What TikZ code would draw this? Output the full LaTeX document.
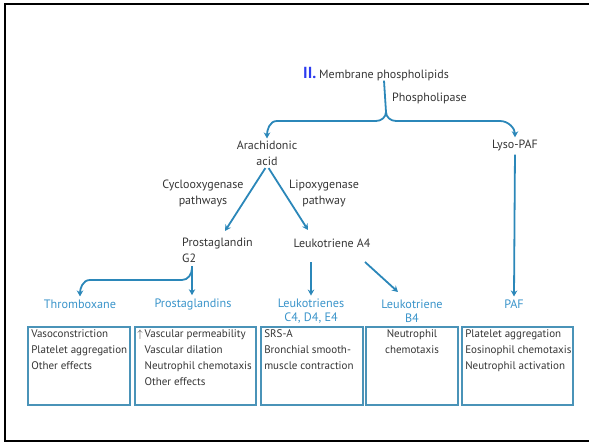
\documentclass[tikz,border=0pt]{standalone}
\usepackage{fontspec}
\setmainfont{PT Sans}
\usetikzlibrary{arrows.meta}
\definecolor{flowblue}{HTML}{2B87B9}
\definecolor{nameblue}{HTML}{3A94CA}
\definecolor{boxblue}{HTML}{4A93B8}
\definecolor{inkgrey}{HTML}{353535}
\definecolor{numblue}{HTML}{2B3BF0}
\begin{document}
\begin{tikzpicture}[x=1pt,y=-1pt,
    txt/.style={inner sep=0pt,text=inkgrey,font=\fontsize{12}{16}\selectfont,align=center},
    prod/.style={inner sep=0pt,text=nameblue,font=\fontsize{12.2}{14}\selectfont,align=center},
    effbox/.style={draw=boxblue,line width=1.8pt,minimum height=78pt,inner sep=0pt},
    efftxt/.style={inner sep=0pt,text=inkgrey,font=\fontsize{11}{16}\selectfont,align=left,anchor=north west},
    flow/.style={draw=flowblue,line width=1.8pt,-{Stealth[length=6pt,width=6.5pt]}}]
    \useasboundingbox (0,0) rectangle (589,444);
    \draw[line width=2.6pt] (589,4) -| (5,441) -- (589,441);
        \node[txt] (mem) at (384,75) {Membrane phospholipids};
        \node[inner sep=0pt,anchor=base east,text=numblue,font=\fontsize{16}{16}\bfseries\selectfont] (num) at ([xshift=-2.5pt]mem.base west) {II.};
        \node[txt,anchor=west] (lipase) at (392,98) {Phospholipase};
        \node[txt] (arach) at (267,153) {Arachidonic\\acid};
        \node[txt] (lyso) at (515,145) {Lyso-PAF};
        \node[txt] (cox) at (203,193.5) {Cyclooxygenase\\pathways};
        \node[txt] (lox) at (324,193.5) {Lipoxygenase\\pathway};
        \node[txt,align=left,anchor=west] (pgg) at (182,250.5) {Prostaglandin\\G2};
        \node[txt] (lta) at (332,243) {Leukotriene A4};
        \node[prod] (thx) at (80,304) {Thromboxane};
        \node[prod] (pgs) at (193,304) {Prostaglandins};
        \node[prod] (ltc) at (311,311) {Leukotrienes\\C4, D4, E4};
        \node[prod] (ltb) at (412,311) {Leukotriene\\B4};
        \node[prod] (paf) at (514,304) {PAF};
    \coordinate (fork) at (386,112);
    \draw[flow] (mem.south) -- (fork) to[out=-90,in=0] (376,121) -- (277,121) to[out=180,in=90] ([yshift=2pt]arach.north);
    \draw[flow] (fork) to[out=-90,in=180] (396,121) -- (500,121) to[out=0,in=90] ([yshift=2pt]lyso.north);
    \draw[flow,shorten <=4pt] (lyso.south) -- ([yshift=3pt]paf.north);
    \draw[flow,shorten <=3pt] (arach.south) -- (225,231);
    \draw[flow,shorten <=3pt] (arach.south) -- (308,230);
    \draw[flow] (192,266) -- ([yshift=3pt]pgs.north -| 192,0);
    \draw[flow] (192,268) to[out=-90,in=0] (182,280) -- (90,280) to[out=180,in=90] ([yshift=3pt]thx.north);
    \draw[flow] (311,262) -- ([yshift=3pt]ltc.north);
    \draw[flow] (365,262) -- (398,292);
        \node[effbox,minimum width=102pt] (b1) at (79,366) {};
        \node[effbox,minimum width=121pt] (b2) at (195.5,366) {};
        \node[effbox,minimum width=102pt] (b3) at (312,366) {};
        \node[effbox,minimum width=92pt] (b4) at (412,366) {};
        \node[effbox,minimum width=111pt] (b5) at (517.5,366) {};
        \node[efftxt] (e1) at ([shift={(4,3)}]b1.north west) {Vasoconstriction\\Platelet aggregation\\Other effects};
        \node[efftxt] (e2) at ([shift={(3,3)}]b2.north west) {$\uparrow$\,Vascular permeability\\\hphantom{$\uparrow$\,}Vascular dilation\\\hphantom{$\uparrow$\,}Neutrophil chemotaxis\\\hphantom{$\uparrow$\,}Other effects};
        \node[efftxt] (e3) at ([shift={(4,3)}]b3.north west) {SRS-A\\Bronchial smooth-\\muscle contraction};
        \node[efftxt,align=center,anchor=north] (e4) at ([shift={(0,3)}]b4.north) {Neutrophil\\chemotaxis};
        \node[efftxt] (e5) at ([shift={(4,3)}]b5.north west) {Platelet aggregation\\Eosinophil chemotaxis\\Neutrophil activation};
\end{tikzpicture}
\end{document}
